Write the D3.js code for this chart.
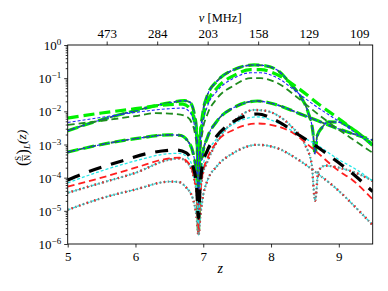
<!DOCTYPE html>
<html lang="en">
<head>
<meta charset="UTF-8" />
<title>S/N</title>
<script src="https://d3js.org/d3.v7.min.js"></script>
<style>
  body { margin: 0; background: #fff; }
  svg text { font-family: "Liberation Serif", "Times New Roman", serif; fill: #000; }
</style>
</head>
<body>
<svg width="388" height="291"></svg>
<script>
// ---- data: [z, S/N] ----
var f1Lime = [[5.0,6.3e-3],[5.5,8.9e-3],[6.0,1.2e-2],[6.5,1.6e-2],[6.7,1.65e-2],[6.8,1.25e-2],[6.87,5e-3],[6.91,1.2e-3],[6.93,1e-5],[6.95,8e-4],[6.99,5e-3],[7.06,1.8e-2],[7.2,5e-2],[7.45,0.12],[7.7,0.18],[7.85,0.18],[8.1,0.125],[8.4,5e-2],[8.7,1.66e-2],[9.0,6e-3],[9.25,2.5e-3],[9.5,9.5e-4]];
var f1Blue = [[5.0,4.6e-3],[5.5,6.6e-3],[6.0,9.3e-3],[6.5,1.2e-2],[6.7,1.25e-2],[6.8,9.5e-3],[6.87,3.8e-3],[6.91,9e-4],[6.93,6e-6],[6.95,6e-4],[6.99,4e-3],[7.06,1.4e-2],[7.2,4e-2],[7.45,0.1],[7.7,0.145],[7.85,0.145],[8.1,0.1],[8.4,3.5e-2],[8.7,1.26e-2],[9.0,5e-3],[9.25,2.2e-3],[9.5,1e-3]];
var f1DkGreen = [[5.0,3.9e-3],[5.5,5.2e-3],[6.0,7.2e-3],[6.3,8.8e-3],[6.6,8.3e-3],[6.75,7e-3],[6.83,4.5e-3],[6.88,2e-3],[6.91,6e-4],[6.93,8e-6],[6.95,4e-4],[6.99,2.5e-3],[7.06,8e-3],[7.2,2.4e-2],[7.45,6e-2],[7.7,0.1],[7.85,0.1],[8.1,7e-2],[8.4,2.5e-2],[8.7,8e-3],[9.0,2.8e-3],[9.25,1.25e-3],[9.5,5.6e-4]];
var f2 = [[5.0,2.6e-3],[5.5,5.6e-3],[6.0,1.05e-2],[6.5,1.8e-2],[6.72,2.1e-2],[6.8,1.9e-2],[6.87,8e-3],[6.91,1.6e-3],[6.93,4e-6],[6.95,1.2e-3],[6.99,8e-3],[7.06,3e-2],[7.2,8e-2],[7.45,0.18],[7.75,0.25],[7.9,0.24],[8.1,0.17],[8.3,6.3e-2],[8.45,2.5e-2],[8.55,9e-3],[8.62,2.2e-3],[8.65,5e-4],[8.68,1.8e-3],[8.75,3.2e-3],[8.85,4.8e-3],[9.0,4.7e-3],[9.25,2.5e-3],[9.5,9.5e-4]];
var f3 = [[5.0,5.9e-4],[5.5,1e-3],[6.0,1.5e-3],[6.5,1.95e-3],[6.65,1.9e-3],[6.78,1.2e-3],[6.86,4.5e-4],[6.91,9e-5],[6.93,2.5e-6],[6.95,9e-5],[6.99,5e-4],[7.06,1.6e-3],[7.2,5e-3],[7.45,1.3e-2],[7.8,2.05e-2],[8.0,1.75e-2],[8.47,7.8e-3],[8.97,3.1e-3],[9.5,1.35e-3]];
var k4Black = [[5.0,8.5e-5],[5.3,1.5e-4],[5.8,3.2e-4],[6.2,5.5e-4],[6.6,6.8e-4],[6.75,5.6e-4],[6.84,2.5e-4],[6.9,6e-5],[6.93,6e-6],[6.95,4e-5],[6.99,2.5e-4],[7.06,6.5e-4],[7.2,1.8e-3],[7.45,5e-3],[7.8,8.3e-3],[8.1,5e-3],[8.4,2e-3],[8.7,8e-4],[9.0,2.8e-4],[9.25,1.1e-4],[9.5,3.8e-5]];
var k4Cyan = [[5.0,7e-5],[5.5,1.6e-4],[6.0,3.2e-4],[6.5,5.3e-4],[6.65,5.4e-4],[6.78,3.8e-4],[6.86,1.5e-4],[6.91,3.5e-5],[6.93,4e-6],[6.95,3e-5],[6.99,2e-4],[7.06,5.5e-4],[7.2,1.5e-3],[7.45,4.2e-3],[7.8,6.8e-3],[8.1,4.5e-3],[8.4,2e-3],[8.7,9e-4],[9.0,3.5e-4],[9.25,1.8e-4],[9.5,8e-5]];
var k4Red = [[5.0,5.4e-5],[5.5,1e-4],[6.0,2e-4],[6.5,3.8e-4],[6.65,4e-4],[6.78,2.8e-4],[6.86,1.1e-4],[6.91,2.5e-5],[6.93,3e-6],[6.95,2e-5],[6.99,1.3e-4],[7.06,3.8e-4],[7.2,1.2e-3],[7.45,2.8e-3],[7.8,4.3e-3],[8.1,3.5e-3],[8.3,2.4e-3],[8.6,8e-4],[9.0,1.6e-4],[9.2,8.5e-5],[9.5,2.2e-5]];
var k4Grey = [[5.0,3.5e-5],[5.5,7e-5],[6.0,1.4e-4],[6.5,3.5e-4],[6.65,3.8e-4],[6.78,2.6e-4],[6.86,1e-4],[6.91,2.2e-5],[6.93,2e-6],[6.95,2e-5],[6.99,1.2e-4],[7.06,3e-4],[7.2,1.2e-3],[7.45,5e-3],[7.75,1.1e-2],[7.9,1.05e-2],[8.1,7.5e-3],[8.3,3.5e-3],[8.5,1e-3],[8.6,2.5e-4],[8.65,2e-5],[8.7,1.6e-4],[8.8,2.3e-4],[8.9,2.2e-4],[9.0,2e-4],[9.25,1.4e-4],[9.5,8e-5]];
var k5 = [[5.0,1.07e-5],[5.5,2.4e-5],[6.0,4.4e-5],[6.5,7.6e-5],[6.62,7.5e-5],[6.75,5e-5],[6.85,2.2e-5],[6.9,7e-6],[6.93,1.8e-6],[6.96,8e-6],[7.0,3e-5],[7.06,8e-5],[7.2,2.2e-4],[7.45,5.6e-4],[7.8,9.8e-4],[8.1,7.6e-4],[8.4,3.5e-4],[8.7,1.26e-4],[9.0,4e-5],[9.25,1.26e-5],[9.5,3.7e-6]];

var xTicks = [5, 6, 7, 8, 9];
var topTicks = [2, 4, 6, 8, 10, 12];
var topLabels = ["473", "284", "203", "158", "129", "109"];
var yTicks = [1e-6, 1e-5, 1e-4, 1e-3, 1e-2, 1e-1, 1];
var yExps = ["\u22126", "\u22125", "\u22124", "\u22123", "\u22122", "\u22121", "0"];

// ---- styles ----
var st = {
  lime:    { c: "#00f000", w: 3.2, d: "11,5" },
  blue:    { c: "#2323ff", w: 1.1, d: "3,2" },
  dkgreen: { c: "#1e8c1e", w: 1.8, d: "7,4" },
  black:   { c: "#000000", w: 3.2, d: "13,10" },
  red:     { c: "#ff1f1f", w: 1.8, d: "7,4" },
  cyan:    { c: "#22e8e8", w: 1.3, d: "3,2" },
  grey:    { c: "#808080", w: 2.3, d: "1.5,2.5" },
  greyRed: { c: "#dd3333", w: 2.3, d: "1.5,6.5", o: 4 }
};

var series = [
  [f2, "lime"], [f2, "dkgreen"], [f2, "blue"],
  [f3, "lime"], [f3, "dkgreen"], [f3, "blue"],
  [f1Lime, "lime"], [f1DkGreen, "dkgreen"], [f1Blue, "blue"],
  [k5, "cyan"], [k5, "grey"], [k5, "greyRed"],
  [k4Grey, "cyan"], [k4Grey, "grey"], [k4Grey, "greyRed"],
  [k4Red, "red"], [k4Cyan, "cyan"], [k4Black, "black"]
];

var svg = d3.select("svg");
var L = 67.7, R = 372.7, T = 45, B = 244;
var FONT = "Liberation Serif, Times New Roman, serif";

var x = d3.scaleLinear().domain([5, 9.5]).range([L, R]);
var xTop = d3.scaleLinear().domain([0.456, 12.537]).range([L, R]);
var y = d3.scaleLog().domain([1e-6, 1]).range([B, T]);

svg.append("clipPath").attr("id", "clip")
  .append("rect").attr("x", L).attr("y", T).attr("width", R - L).attr("height", B - T);

var line = d3.line()
  .x(d => x(d[0]))
  .y(d => y(d[1]))
  .curve(d3.curveMonotoneX);

var g = svg.append("g").attr("clip-path", "url(#clip)");
series.forEach(function (s) {
  var p = st[s[1]];
  g.append("path")
    .attr("d", line(s[0]))
    .attr("fill", "none")
    .attr("stroke", p.c)
    .attr("stroke-width", p.w)
    .attr("stroke-dasharray", p.d)
    .attr("stroke-dashoffset", p.o || 0);
});

// frame
svg.append("rect")
  .attr("x", L).attr("y", T).attr("width", R - L).attr("height", B - T)
  .attr("fill", "none").attr("stroke", "#000").attr("stroke-width", 0.9);

// bottom axis
var ax = svg.append("g").attr("transform", "translate(0," + B + ")")
  .call(d3.axisBottom(x).tickValues(xTicks).tickSize(3.5).tickPadding(4).tickFormat(d3.format("d")));
ax.attr("font-family", FONT).attr("font-size", 13);
ax.select(".domain").remove();

svg.append("text").attr("x", (L + R) / 2).attr("y", 273)
  .attr("text-anchor", "middle").attr("font-size", 14).attr("font-style", "italic").text("z");

// top axis
var at = svg.append("g").attr("transform", "translate(0," + T + ")")
  .call(d3.axisTop(xTop).tickValues(topTicks).tickSize(3.5).tickPadding(4).tickFormat((d, i) => topLabels[i]));
at.attr("font-family", FONT).attr("font-size", 13);
at.select(".domain").remove();

var nu = svg.append("text").attr("x", (L + R) / 2).attr("y", 22)
  .attr("text-anchor", "middle").attr("font-size", 12.5);
nu.append("tspan").attr("font-style", "italic").text("\u03bd");
nu.append("tspan").text(" [MHz]");

// left axis: major
var ay = svg.append("g").attr("transform", "translate(" + L + ",0)")
  .call(d3.axisLeft(y).tickValues(yTicks).tickSize(3.5).tickPadding(3).tickFormat(""));
ay.attr("font-family", FONT).attr("font-size", 13);
ay.select(".domain").remove();
ay.selectAll(".tick").each(function (d, i) {
  var t = d3.select(this).select("text").attr("dy", "0.35em");
  t.append("tspan").text("10");
  t.append("tspan").attr("font-size", 9).attr("dy", "-0.55em").text(yExps[i]);
});
// left axis: minor
var minor = [];
for (var k = -6; k < 0; k++) for (var m = 2; m < 10; m++) minor.push(m * Math.pow(10, k));
var am = svg.append("g").attr("transform", "translate(" + L + ",0)")
  .call(d3.axisLeft(y).tickValues(minor).tickSize(2).tickFormat(""));
am.select(".domain").remove();
svg.selectAll(".tick line").attr("stroke", "#000").attr("stroke-width", 0.8);

// y label: (S/N)_L(z)
var yl = svg.append("g").attr("transform", "translate(26,166) rotate(-90)");
yl.append("text").attr("x", 0).attr("y", 1.5).attr("font-size", 16).text("(");
yl.append("text").attr("x", 5.2).attr("y", -5).attr("font-size", 8.5).text("S");
yl.append("line").attr("x1", 4.8).attr("x2", 11).attr("y1", -3.6).attr("y2", -3.6)
  .attr("stroke", "#000").attr("stroke-width", 0.6);
yl.append("text").attr("x", 5).attr("y", 3.8).attr("font-size", 8.5).text("N");
yl.append("text").attr("x", 11.5).attr("y", 1.5).attr("font-size", 16).text(")");
yl.append("text").attr("x", 17).attr("y", 3.5).attr("font-size", 9).attr("font-style", "italic").text("L");
yl.append("text").attr("x", 22).attr("y", 0).attr("font-size", 13.5).attr("font-style", "italic").text("(z)");
</script>
</body>
</html>
